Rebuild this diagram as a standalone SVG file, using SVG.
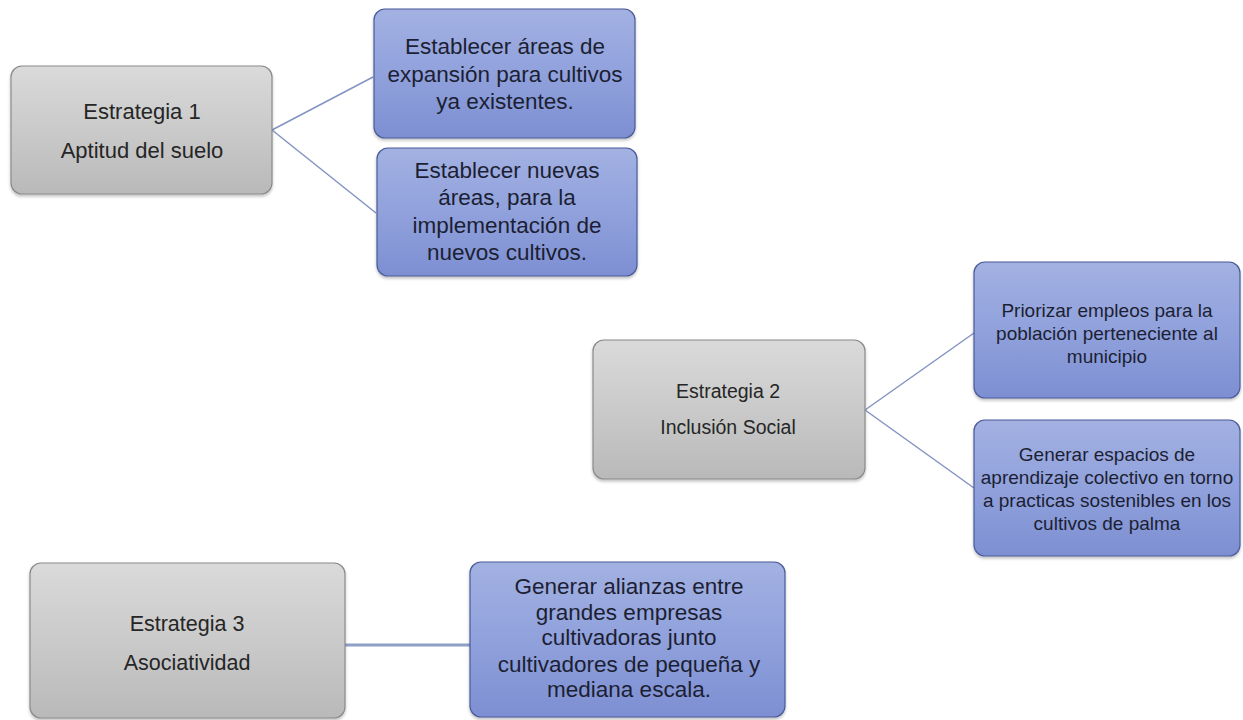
<svg xmlns="http://www.w3.org/2000/svg" width="1243" height="720" viewBox="0 0 1243 720">
<defs>
<linearGradient id="gGray" x1="0" y1="0" x2="0" y2="1">
<stop offset="0" stop-color="#dadada"/>
<stop offset="0.5" stop-color="#cacaca"/>
<stop offset="1" stop-color="#b9b9b9"/>
</linearGradient>
<linearGradient id="gBlue" x1="0" y1="0" x2="0" y2="1">
<stop offset="0" stop-color="#a3b1e2"/>
<stop offset="0.5" stop-color="#90a1dc"/>
<stop offset="1" stop-color="#7d8fd2"/>
</linearGradient>
<filter id="sh" x="-10%" y="-10%" width="120%" height="125%">
<feDropShadow dx="0" dy="2" stdDeviation="1.5" flood-color="#000" flood-opacity="0.25"/>
</filter>
</defs>
<style>
.gray{fill:url(#gGray);stroke:#8a8a8a;stroke-width:1.2;filter:url(#sh)}
.blue{fill:url(#gBlue);stroke:#4a5b98;stroke-width:1.2;filter:url(#sh)}
.t{font-family:"Liberation Sans",Arial,sans-serif;text-anchor:middle;fill:#262626}
.tb{font-family:"Liberation Sans",Arial,sans-serif;text-anchor:middle;fill:#1c1f33}
.c{stroke:#8394c2;stroke-width:1.5;fill:none}
.c3{stroke:#8ea0c6;stroke-width:3;fill:none}
</style>
<rect width="1243" height="720" fill="#ffffff"/>
<g id="connectors">
<line class="c" x1="272" y1="130" x2="373" y2="77"/>
<line class="c" x1="272" y1="130" x2="376" y2="213"/>
<line class="c" x1="865" y1="410" x2="974" y2="333"/>
<line class="c" x1="865" y1="410" x2="974" y2="488"/>
<line class="c3" x1="345" y1="645" x2="470" y2="645"/>
</g>
<g id="s1">
<rect class="gray" x="11" y="66" width="261" height="128" rx="11"/>
<text class="t" font-size="22"><tspan x="142" y="119">Estrategia 1</tspan><tspan x="142" y="158">Aptitud del suelo</tspan></text>
</g>
<g id="s1a">
<rect class="blue" x="374" y="9" width="261" height="129" rx="11"/>
<text class="tb" font-size="22.5"><tspan x="505" y="54">Establecer áreas de</tspan><tspan x="505" y="82">expansión para cultivos</tspan><tspan x="505" y="109">ya existentes.</tspan></text>
</g>
<g id="s1b">
<rect class="blue" x="377" y="148" width="260" height="128" rx="11"/>
<text class="tb" font-size="22.5"><tspan x="507" y="178">Establecer nuevas</tspan><tspan x="507" y="205">áreas, para la</tspan><tspan x="507" y="233">implementación de</tspan><tspan x="507" y="260">nuevos cultivos.</tspan></text>
</g>
<g id="s2">
<rect class="gray" x="593" y="340" width="272" height="139" rx="11"/>
<text class="t" font-size="19.5"><tspan x="728" y="398">Estrategia 2</tspan><tspan x="728" y="434">Inclusión Social</tspan></text>
</g>
<g id="s2a">
<rect class="blue" x="974" y="262" width="266" height="136" rx="11"/>
<text class="tb" font-size="19"><tspan x="1107" y="317">Priorizar empleos para la</tspan><tspan x="1107" y="340">población perteneciente al</tspan><tspan x="1107" y="363">municipio</tspan></text>
</g>
<g id="s2b">
<rect class="blue" x="974" y="420" width="266" height="136" rx="11"/>
<text class="tb" font-size="19"><tspan x="1107" y="461">Generar espacios de</tspan><tspan x="1107" y="484">aprendizaje colectivo en torno</tspan><tspan x="1107" y="507">a practicas sostenibles en los</tspan><tspan x="1107" y="530">cultivos de palma</tspan></text>
</g>
<g id="s3">
<rect class="gray" x="30" y="563" width="315" height="155" rx="11"/>
<text class="t" font-size="21.5"><tspan x="187" y="631">Estrategia 3</tspan><tspan x="187" y="670">Asociatividad</tspan></text>
</g>
<g id="s3a">
<rect class="blue" x="470" y="562" width="315" height="155" rx="11"/>
<text class="tb" font-size="22.5"><tspan x="629" y="594">Generar alianzas entre</tspan><tspan x="629" y="620">grandes empresas</tspan><tspan x="629" y="645">cultivadoras junto</tspan><tspan x="629" y="672">cultivadores de pequeña y</tspan><tspan x="629" y="697">mediana escala.</tspan></text>
</g>
</svg>
